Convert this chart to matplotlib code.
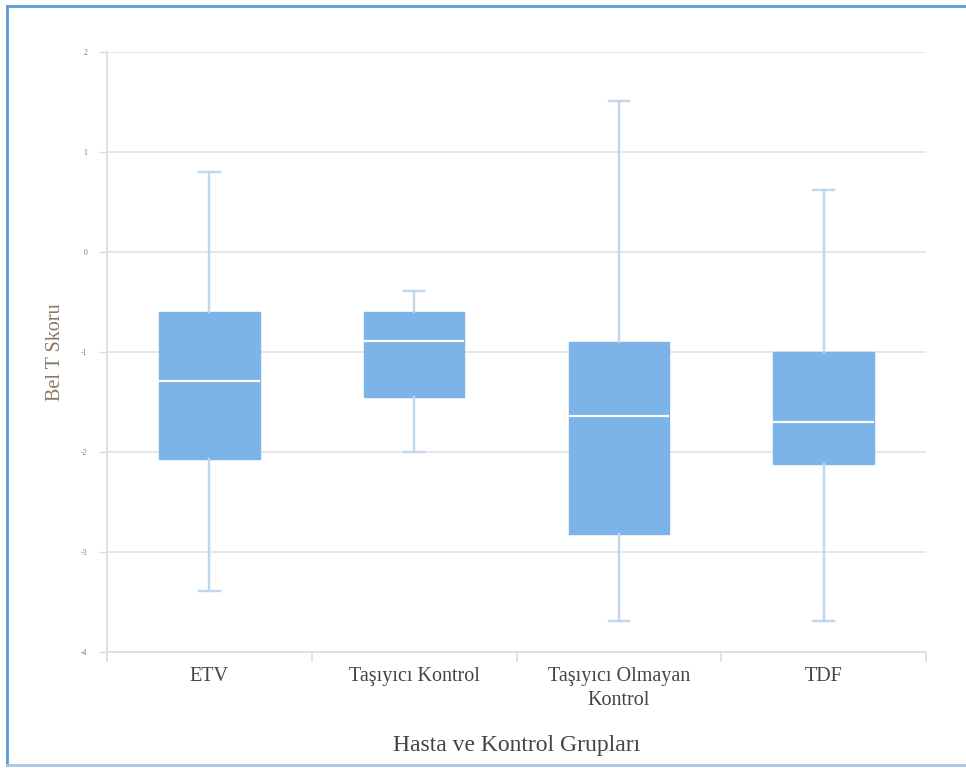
import matplotlib.pyplot as plt
from matplotlib.lines import Line2D

# group names and five-number summaries
gruplar = ["ETV", "Taşıyıcı Kontrol", "Taşıyıcı Olmayan\nKontrol", "TDF"]
alt_uc = [-3.39, -2.0, -3.69, -3.69]
q1 = [-2.07, -1.45, -2.82, -2.12]
medyan = [-1.29, -0.89, -1.64, -1.70]
q3 = [-0.60, -0.60, -0.90, -1.00]
ust_uc = [0.80, -0.39, 1.51, 0.62]
y_ticks = [-4, -3, -2, -1, 0, 1, 2]

plt.rcParams['font.family'] = ['Liberation Serif', 'DejaVu Serif']

fig = plt.figure(figsize=(9.66, 7.68), dpi=100)
ax = fig.add_axes([0.1108, 0.151, 0.8478, 0.781])

stats = []
for i in range(len(gruplar)):
    stats.append({"whislo": alt_uc[i], "q1": q1[i], "med": medyan[i],
                  "q3": q3[i], "whishi": ust_uc[i], "fliers": []})

kutu = "#7cb3e9"
biyik = "#bdd7ee"
ax.bxp(stats, positions=range(len(gruplar)), widths=0.49, capwidths=0.1,
       patch_artist=True, showfliers=False,
       boxprops=dict(facecolor=kutu, edgecolor=kutu, linewidth=1),
       medianprops=dict(color="white", linewidth=1.6),
       whiskerprops=dict(color=biyik, linewidth=1.7),
       capprops=dict(color=biyik, linewidth=1.7), zorder=3)

ax.set_xlim(-0.5, len(gruplar) - 0.5)
ax.set_ylim(-4, 2)
ax.set_yticks(y_ticks)
ax.set_yticklabels([str(t) for t in y_ticks], fontsize=5.5, color="#777777")
ax.yaxis.grid(True, color="#e4e4e4", linewidth=1.3, zorder=0)
ax.set_axisbelow(True)

# category labels centred, ticks between groups
ax.set_xticks(range(len(gruplar)))
ax.set_xticklabels(gruplar, fontsize=14.5, color="#444444", linespacing=1.3)
ax.tick_params(axis="x", length=0, pad=11)
ax.set_xticks([i - 0.5 for i in range(len(gruplar) + 1)], minor=True)
ax.tick_params(axis="x", which="minor", length=7, color="#d5e1ee", width=1.3)
ax.tick_params(axis="y", length=6, color="#dddddd", width=1, pad=8)

for s in ["top", "right"]:
    ax.spines[s].set_visible(False)
ax.spines["left"].set_color("#d5e1ee")
ax.spines["left"].set_linewidth(1.3)
ax.spines["bottom"].set_color("#d5e1ee")
ax.spines["bottom"].set_linewidth(1.3)

ax.set_ylabel("Bel T Skoru", fontsize=14.5, color="#8a7560", labelpad=12)
ax.set_xlabel("Hasta ve Kontrol Grupları", fontsize=17, color="#444444", labelpad=18)

# thin blue frame around the figure (open on the right)
fig.add_artist(Line2D([0.0072, 1.0], [0.992, 0.992], color="#5b9bd5", lw=2,
                      transform=fig.transFigure))
fig.add_artist(Line2D([0.0072, 0.0072], [0.004, 0.992], color="#5b9bd5", lw=2,
                      transform=fig.transFigure))
fig.add_artist(Line2D([0.0072, 1.0], [0.004, 0.004], color="#a9c6e4", lw=2,
                      transform=fig.transFigure))

fig.savefig("out.png", dpi=100)
